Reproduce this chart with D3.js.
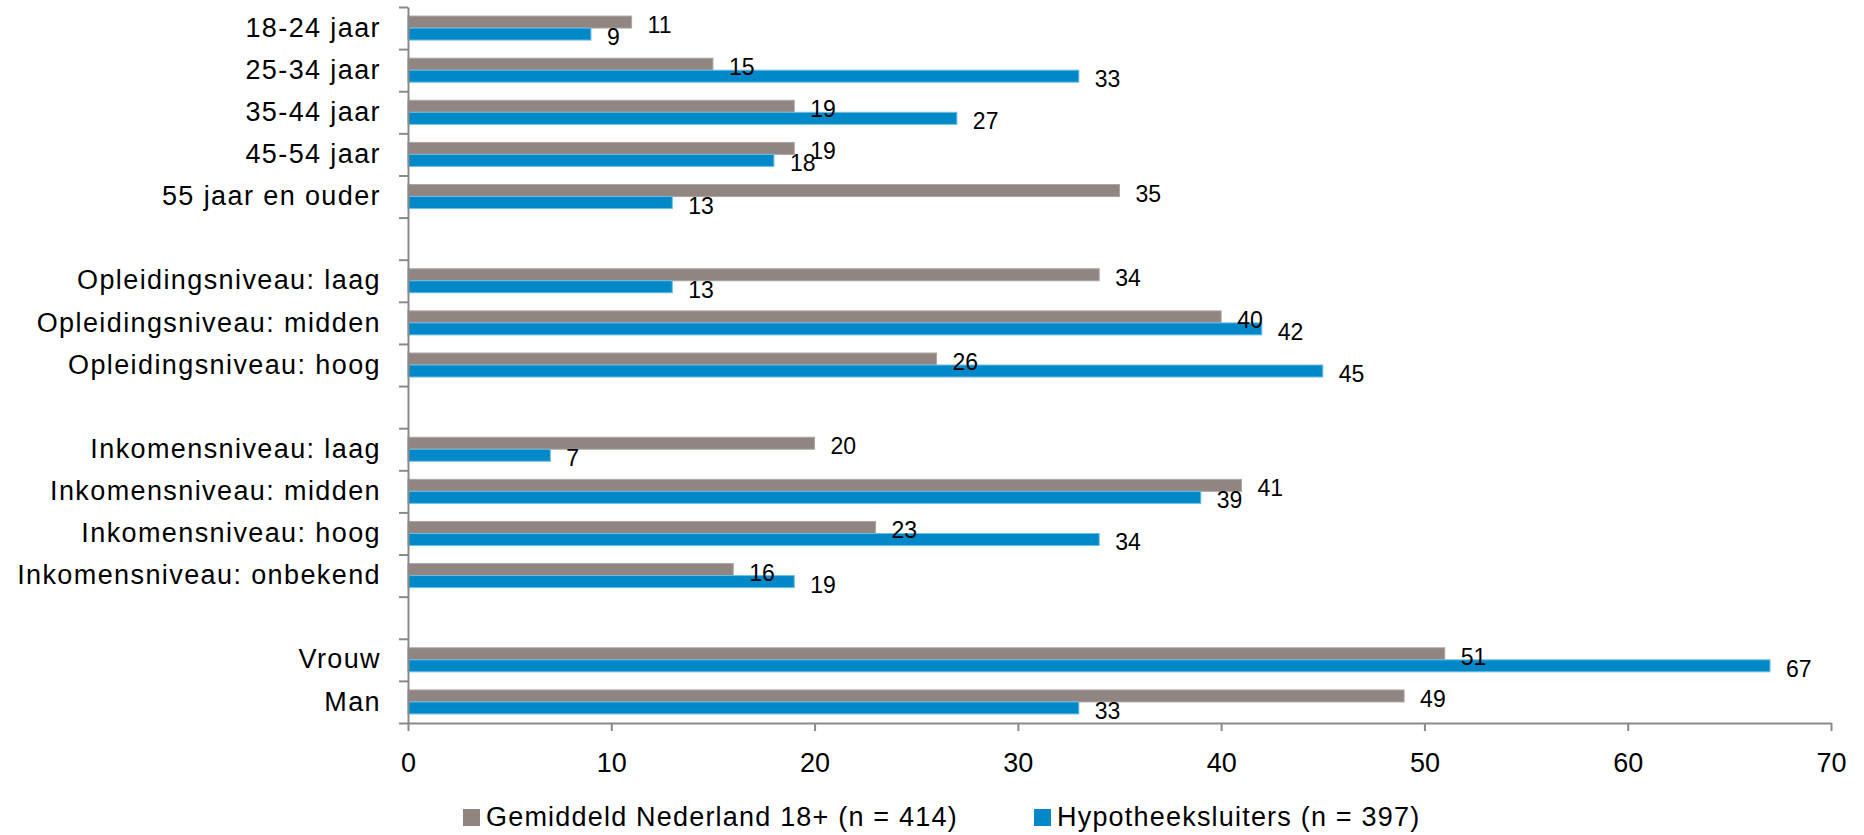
<!DOCTYPE html>
<html lang="nl">
<head>
<meta charset="utf-8">
<title>Hypotheeksluiters vs. gemiddeld Nederland</title>
<script src="https://cdn.jsdelivr.net/npm/d3@7"></script>
<style>
  html, body { margin: 0; padding: 0; background: #ffffff; }
  svg { display: block; font-family: "Liberation Sans", Arial, sans-serif; }
</style>
</head>
<body>
<svg id="chart" width="1864" height="835"></svg>
<script>
// Categories top to bottom; empty strings are spacer rows between groups
const categories = [
  "18-24 jaar", "25-34 jaar", "35-44 jaar", "45-54 jaar", "55 jaar en ouder", "",
  "Opleidingsniveau: laag", "Opleidingsniveau: midden", "Opleidingsniveau: hoog", "",
  "Inkomensniveau: laag", "Inkomensniveau: midden", "Inkomensniveau: hoog", "Inkomensniveau: onbekend", "",
  "Vrouw", "Man"
];

// Percentages per category (null on spacer rows)
const gemiddeldValues = [11, 15, 19, 19, 35, null, 34, 40, 26, null, 20, 41, 23, 16, null, 51, 49];
const hypotheekValues = [9, 33, 27, 18, 13, null, 13, 42, 45, null, 7, 39, 34, 19, null, 67, 33];

const seriesNames = ["Gemiddeld Nederland 18+ (n = 414)", "Hypotheeksluiters (n = 397)"];
const seriesColors = ["#908580", "#0088c9"];
const seriesStrokes = ["#aea6a2", "#6cbde6"];

const xTicks = [0, 10, 20, 30, 40, 50, 60, 70];

const svg = d3.select("#chart");

const plotLeft = 408, plotRight = 1831, plotTop = 7, plotBottom = 723;

const x = d3.scaleLinear().domain([0, 70]).range([plotLeft, plotRight]);

const idx = d3.range(categories.length);
const y = d3.scaleBand()
  .domain(idx)
  .range([plotTop, plotBottom])
  .paddingInner(0.43)
  .paddingOuter(0.215);

const ySeries = d3.scaleBand().domain([0, 1]).range([0, y.bandwidth()]);

// Row boundaries for the category axis ticks
const yEdge = d3.scaleLinear().domain([0, categories.length]).range([plotTop, plotBottom]);

const axisColor = "#8a8a8a";

// Bars
const series = [gemiddeldValues, hypotheekValues];
series.forEach((vals, s) => {
  const rows = idx.filter(i => vals[i] !== null);
  svg.append("g")
    .selectAll("rect")
    .data(rows)
    .join("rect")
      .attr("x", x(0))
      .attr("y", i => y(i) + ySeries(s))
      .attr("width", i => x(vals[i]) - x(0))
      .attr("height", ySeries.bandwidth())
      .attr("fill", seriesColors[s])
      .attr("stroke", seriesStrokes[s])
      .attr("stroke-width", 1);
});

// Category axis: tick marks at row boundaries
const yTickAxis = svg.append("g")
  .attr("transform", `translate(${plotLeft},0)`)
  .call(d3.axisLeft(yEdge)
    .tickValues(d3.range(categories.length + 1))
    .tickFormat("")
    .tickSize(9)
    .tickSizeOuter(0));
yTickAxis.select(".domain").attr("stroke", axisColor).attr("stroke-width", 2);
yTickAxis.selectAll(".tick line").attr("stroke", axisColor).attr("stroke-width", 2);

// Category labels
const yLabelAxis = svg.append("g")
  .attr("transform", `translate(${plotLeft},0)`)
  .call(d3.axisLeft(y)
    .tickFormat(i => categories[i])
    .tickSize(0)
    .tickPadding(27));
yLabelAxis.select(".domain").remove();
yLabelAxis.selectAll(".tick text")
  .attr("font-size", 27)
  .attr("letter-spacing", "1.4px")
  .attr("fill", "#000");

// Value axis
const xAxis = svg.append("g")
  .attr("transform", `translate(0,${plotBottom})`)
  .call(d3.axisBottom(x)
    .tickValues(xTicks)
    .tickFormat(d3.format("d"))
    .tickSize(8)
    .tickSizeOuter(0)
    .tickPadding(22));
xAxis.select(".domain").attr("stroke", axisColor).attr("stroke-width", 2);
xAxis.selectAll(".tick line").attr("stroke", axisColor).attr("stroke-width", 2);
xAxis.selectAll(".tick text").attr("font-size", 27).attr("fill", "#000");

// Value labels beside the bar ends
series.forEach((vals, s) => {
  const rows = idx.filter(i => vals[i] !== null);
  svg.append("g")
    .selectAll("text")
    .data(rows)
    .join("text")
      .attr("x", i => x(vals[i]) + 16)
      .attr("y", i => y(i) + ySeries(s) + ySeries.bandwidth() / 2 + 11)
      .attr("font-size", 23)
      .attr("fill", "#000")
      .text(i => d3.format("d")(vals[i]));
});

// Legend
const legendX = [463, 1034];
const legend = svg.append("g");
seriesNames.forEach((name, s) => {
  legend.append("rect")
    .attr("x", legendX[s])
    .attr("y", 809)
    .attr("width", 17)
    .attr("height", 17)
    .attr("fill", seriesColors[s]);
  legend.append("text")
    .attr("x", legendX[s] + 23)
    .attr("y", 826)
    .attr("font-size", 27)
    .attr("letter-spacing", "1.2px")
    .attr("fill", "#000")
    .text(name);
});
</script>
</body>
</html>
